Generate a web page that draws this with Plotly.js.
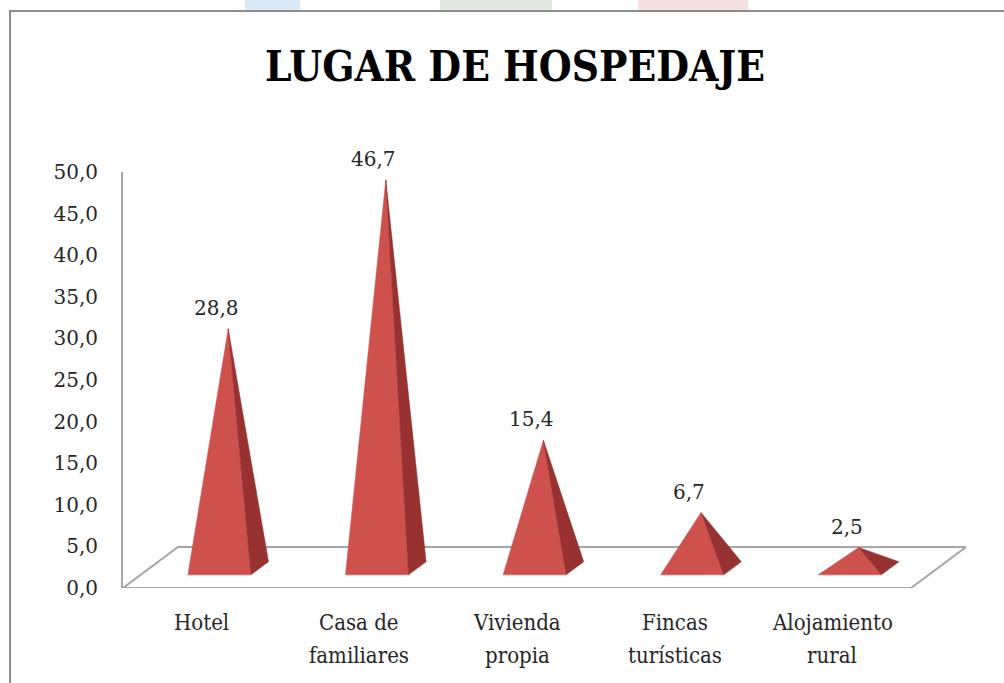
<!DOCTYPE html>
<html>
<head>
<meta charset="utf-8">
<script src="https://cdn.plot.ly/plotly-3.0.1.min.js"></script>
<style>html,body{margin:0;padding:0;background:#fff;}#chart{width:1004px;height:683px;}</style>
</head>
<body>
<div id="chart"></div>
<script>
// ---- data ----
const categories = ["Hotel", "Casa de<br>familiares", "Vivienda<br>propia", "Fincas<br>turísticas", "Alojamiento<br>rural"];
const values = [28.8, 46.7, 15.4, 6.7, 2.5];
const yTicks = [0, 5, 10, 15, 20, 25, 30, 35, 40, 45, 50];

// ---- 3D geometry (in axis units) ----
const DX = 0.349, DY = 4.93;      // full floor depth offset
const F1 = 0.32, F2 = 0.64;       // pyramid depth extent (fraction of floor depth)
const HW = 0.2;                   // pyramid half width
const n = categories.length;

const L = 123, R = 38, T = 172, B = 95, W = 1004, H = 683;
const pw = W - L - R, ph = H - T - B;
const px = p => (p - L) / pw;          // pixel -> paper x
const py = p => (H - B - p) / ph;      // pixel -> paper y

// floor
const floorX = [-0.5, n - 0.5, n - 0.5 + DX, -0.5 + DX, -0.5];
const floorY = [0, 0, DY, DY, 0];

const frontX = [], frontY = [], sideX = [], sideY = [];
const annotations = [];
values.forEach((v, i) => {
  const xf = i + F1 * DX, yf = F1 * DY;
  const tx = i + (F1 + F2) / 2 * DX, ty = (F1 + F2) / 2 * DY + v;
  frontX.push(xf - HW, xf + HW, tx, xf - HW, null);
  frontY.push(yf, yf, ty, yf, null);
  sideX.push(xf + HW, xf + HW + (F2 - F1) * DX, tx, xf + HW, null);
  sideY.push(yf, F2 * DY, ty, yf, null);
  annotations.push({
    x: tx - 0.076, y: ty, xref: 'x', yref: 'y', yshift: 21, yanchor: 'middle',
    text: v.toFixed(1).replace('.', ','), showarrow: false,
    font: {family: 'DejaVu Serif', size: 20, color: '#262626'}
  });
});

// category labels (two lines, wider line spacing as in the original)
categories.forEach((c, i) => {
  c.split('<br>').forEach((line, k) => {
    annotations.push({
      x: i, y: 0, xref: 'x', yref: 'y', yshift: -34 - 33 * k, yanchor: 'middle',
      text: line, showarrow: false,
      font: {family: 'DejaVu Serif Condensed', size: 22, color: '#262626'}
    });
  });
});

const traces = [
  {x: floorX, y: floorY, mode: 'lines', fill: 'toself', fillcolor: '#ffffff',
   line: {color: '#a6a6a6', width: 2}, hoverinfo: 'skip', showlegend: false},
  {x: frontX, y: frontY, mode: 'lines', fill: 'toself', fillcolor: '#cf514d',
   line: {color: '#cf514d', width: 0.5}, connectgaps: false, hoverinfo: 'skip', showlegend: false},
  {x: sideX, y: sideY, mode: 'lines', fill: 'toself', fillcolor: '#973230',
   line: {color: '#973230', width: 0.5}, connectgaps: false, hoverinfo: 'skip', showlegend: false}
];

const shapes = [
  {type: 'rect', xref: 'paper', yref: 'paper', x0: px(10), x1: px(1012), y0: py(692), y1: py(11),
   line: {color: '#8c8c8c', width: 2}, fillcolor: 'rgba(0,0,0,0)', layer: 'below'},
  {type: 'rect', xref: 'paper', yref: 'paper', x0: px(245), x1: px(300), y0: py(10), y1: py(0),
   line: {width: 0}, fillcolor: '#dcebf7', layer: 'below'},
  {type: 'rect', xref: 'paper', yref: 'paper', x0: px(440), x1: px(552), y0: py(10), y1: py(0),
   line: {width: 0}, fillcolor: '#e3e8e3', layer: 'below'},
  {type: 'rect', xref: 'paper', yref: 'paper', x0: px(638), x1: px(748), y0: py(10), y1: py(0),
   line: {width: 0}, fillcolor: '#f7e0e0', layer: 'below'}
];

const layout = {
  width: W, height: H,
  margin: {l: L, r: R, t: T, b: B},
  paper_bgcolor: '#ffffff', plot_bgcolor: 'rgba(0,0,0,0)',
  separators: ',.',
  showlegend: false,
  title: {text: 'LUGAR DE HOSPEDAJE', x: 515 / W, xanchor: 'center', xref: 'container',
          y: 1 - 66 / H, yanchor: 'middle', yref: 'container',
          font: {family: 'DejaVu Serif Condensed', size: 42, weight: 'bold', color: '#000'}},
  xaxis: {range: [-0.5, n - 0.5 + DX], tickmode: 'array', tickvals: categories.map((c, i) => i),
          ticktext: categories, showticklabels: false, showgrid: false, zeroline: false,
          showline: false, ticks: '', fixedrange: true},
  yaxis: {range: [0, 50], tickmode: 'array', tickvals: yTicks, tickformat: '.1f',
          showgrid: false, zeroline: false, showline: true, linecolor: '#a6a6a6', linewidth: 2,
          ticks: '', ticklabelstandoff: 19, fixedrange: true,
          tickfont: {family: 'DejaVu Serif', size: 20, color: '#262626'}},
  shapes: shapes,
  annotations: annotations
};

Plotly.newPlot('chart', traces, layout, {staticPlot: true, displayModeBar: false});
</script>
</body>
</html>
